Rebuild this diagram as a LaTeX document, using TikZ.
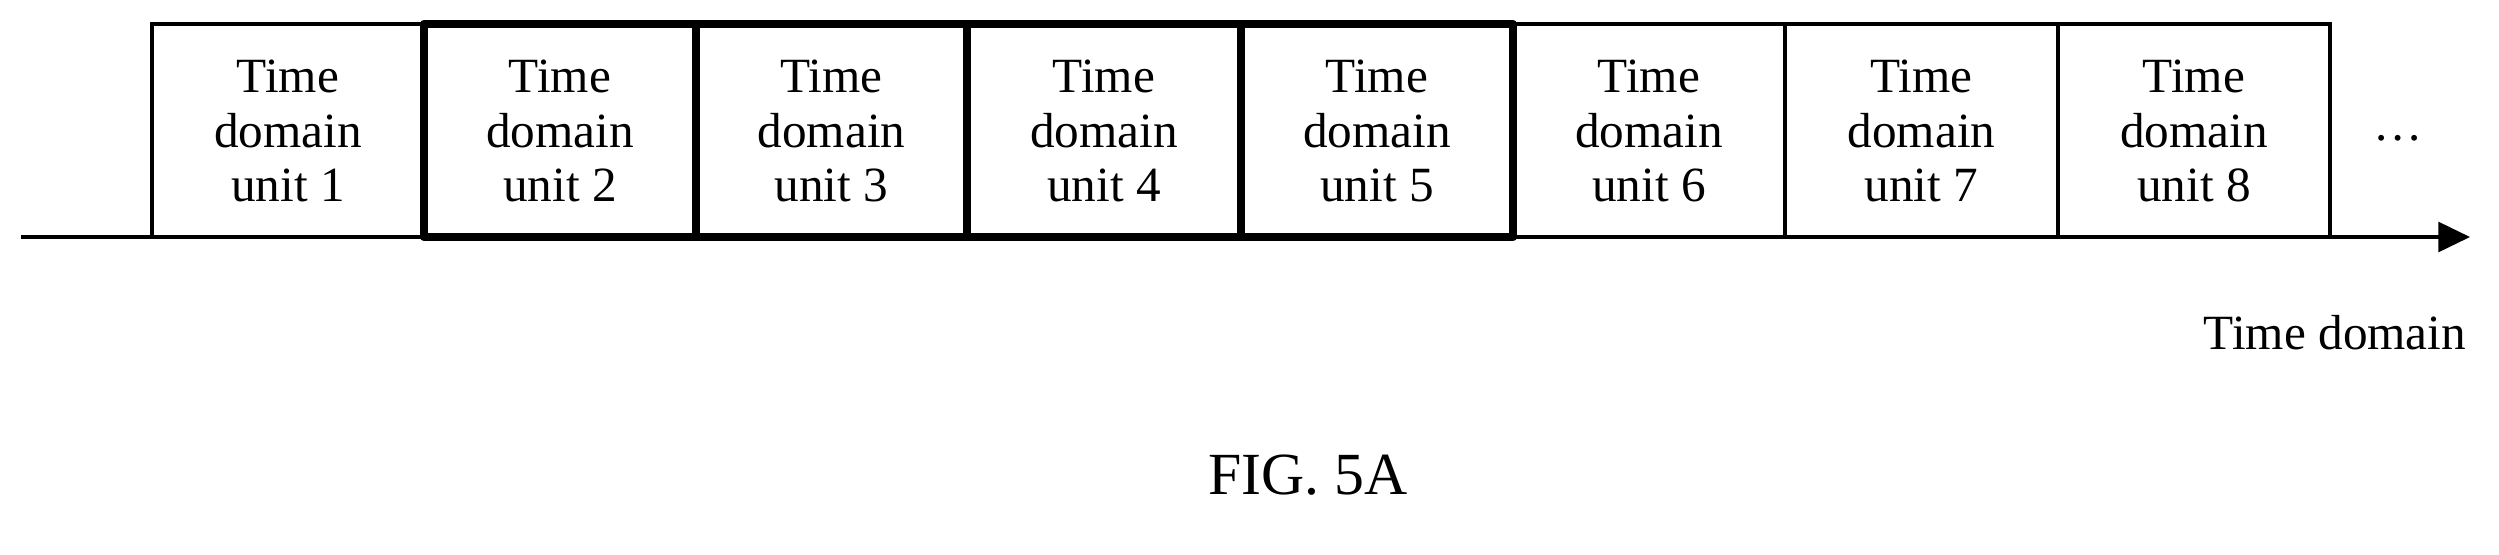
\documentclass[tikz,border=0pt]{standalone}
\usepackage{fontspec}
\setmainfont{Liberation Serif}
\usetikzlibrary{arrows.meta}
\begin{document}
\begin{tikzpicture}[x=0.01cm,y=-0.01cm,
  unittext/.style={align=center,font=\fontsize{14}{15.5}\selectfont},
  thin/.style={line width=0.9pt},
  thick/.style={line width=2.4pt}]
\useasboundingbox (0,0) rectangle (2499,554);
\def\xs{{152,424,696,967,1241,1513,1785,2058,2330}}
\foreach \i in {1,...,8}{
  \pgfmathsetmacro\a{\xs[\i-1]}
  \pgfmathsetmacro\b{\xs[\i]}
  \node[unittext] (u\i) at ({(\a+\b)/2},131) {Time\\domain\\unit \i};
  \draw[thin] (\a,24) rectangle (\b,237);
}
\draw[thick,line join=round] (424,24) rectangle (1513,237);
\foreach \x in {696,967,1241} \draw[thick] (\x,24) -- (\x,237);
\coordinate (s) at (21,237);
\coordinate (e) at (2470,237);
\draw[thin,-{Triangle[length=9pt,width=8.5pt]}] (s) -- (e);
\node[font=\fontsize{14}{15}\selectfont] (dots) at (2398,138) {\dots};
\node[font=\fontsize{14}{15}\selectfont] (lab) at (2335,333) {Time domain};
\node[font=\fontsize{17}{18}\selectfont] (fig) at (1308,475) {FIG. 5A};
\end{tikzpicture}
\end{document}
